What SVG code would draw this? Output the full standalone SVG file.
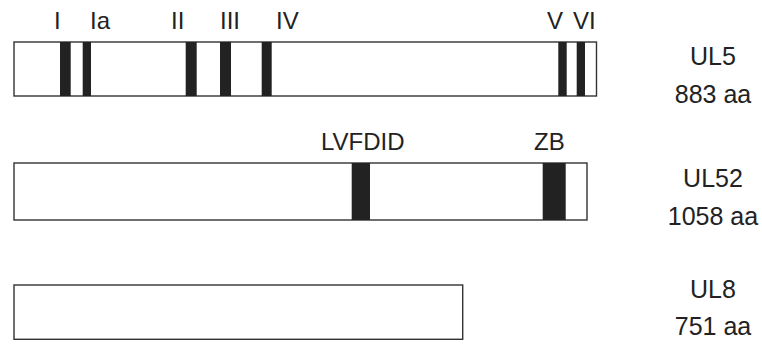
<svg xmlns="http://www.w3.org/2000/svg" width="762" height="346" viewBox="0 0 762 346">
<style>
.box{fill:#fff;stroke:#333;stroke-width:1.4}
.bar{fill:#222}
text{font-family:"Liberation Sans",Arial,sans-serif;fill:#222}
.m{font-size:24px}
.n{font-size:25px;text-anchor:middle}
</style>
<rect width="762" height="346" fill="#fff"/>
<g id="UL5">
<rect class="box" x="14" y="42" width="582.5" height="54"/>
<rect class="bar" x="60" y="42" width="10.7" height="54"/>
<rect class="bar" x="82.7" y="42" width="8.3" height="54"/>
<rect class="bar" x="185.7" y="42" width="11" height="54"/>
<rect class="bar" x="220" y="42" width="11" height="54"/>
<rect class="bar" x="261.7" y="42" width="10" height="54"/>
<rect class="bar" x="558.3" y="42" width="8.4" height="54"/>
<rect class="bar" x="576.7" y="42" width="8.3" height="54"/>
<text class="m" x="54" y="29">I</text>
<text class="m" x="90" y="29">Ia</text>
<text class="m" x="171" y="29">II</text>
<text class="m" x="220" y="29">III</text>
<text class="m" x="276" y="29">IV</text>
<text class="m" x="547" y="29">V</text>
<text class="m" x="573" y="29">VI</text>
<text class="n" x="713" y="65">UL5</text>
<text class="n" x="713" y="103">883 aa</text>
</g>
<g id="UL52">
<rect class="box" x="14" y="163" width="573" height="57"/>
<rect class="bar" x="351.7" y="163" width="18.3" height="57"/>
<rect class="bar" x="542.7" y="163" width="23" height="57"/>
<text class="m" x="321" y="150">LVFDID</text>
<text class="m" x="534" y="150">ZB</text>
<text class="n" x="713" y="187">UL52</text>
<text class="n" x="713" y="225">1058 aa</text>
</g>
<g id="UL8">
<rect class="box" x="14" y="285" width="448.7" height="54.3"/>
<text class="n" x="713" y="298">UL8</text>
<text class="n" x="713" y="335">751 aa</text>
</g>
<g id="connectors"/>
</svg>
